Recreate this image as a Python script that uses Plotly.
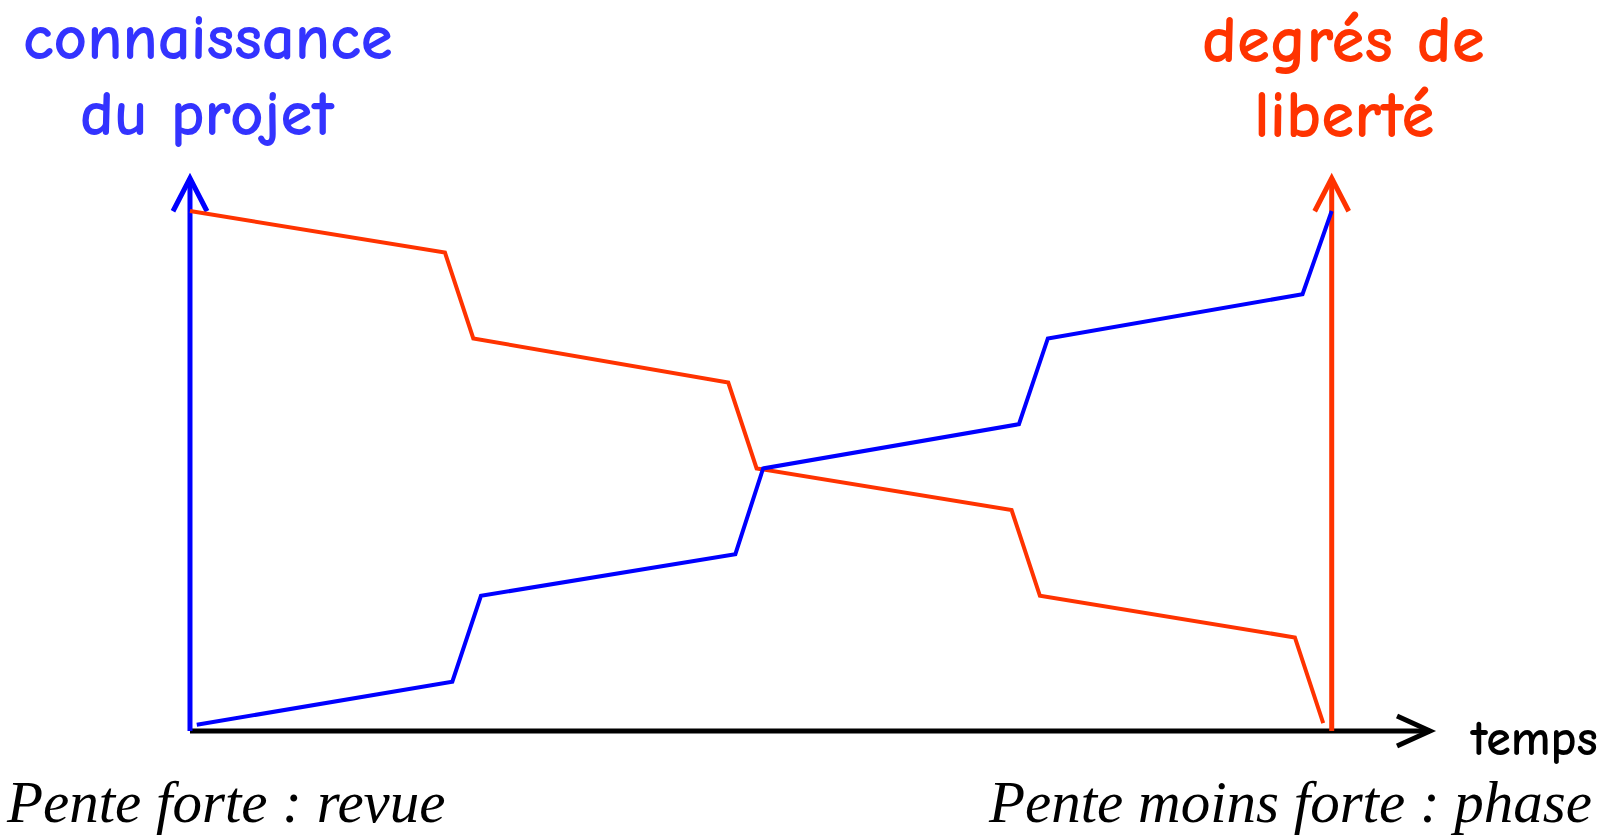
import plotly.graph_objects as go

# ---- data (schematic values) ----
temps_liberte = [0, 9, 10, 19, 20, 29, 30, 39, 40]
degres_liberte = [100, 92, 75.5, 67, 50.5, 42.5, 26, 18, 1.5]
temps_connaissance = [0.24, 9.26, 10.27, 19.25, 20.23, 29.26, 30.28, 39.27, 40.3]
connaissance_projet = [1.2, 9.5, 26, 34, 50.5, 59, 75.5, 84, 100]

label_connaissance = ["connaissance", "du projet"]
label_liberte = ["degrés de", "liberté"]
label_temps = "temps"
note_gauche = "Pente forte : revue"
note_droite = "Pente moins forte : phase"

BLUE = "#0000FF"
BLUE_TXT = "#3333FF"
RED = "#FF3300"

W, H = 1617, 836
XR = [-6.706, 50.37]
YR = [-20.19, 140.58]
pxx = W / (XR[1] - XR[0])
pxy = H / (YR[1] - YR[0])

y_top = 106.3            # arrow tip of the vertical axes
x_end = 43.77            # arrow tip of the time axis
x_red_axis = temps_connaissance[-1]

fig = go.Figure()

fig.add_trace(go.Scatter(x=temps_liberte, y=degres_liberte, mode="lines",
                         line=dict(color=RED, width=4), hoverinfo="skip"))
fig.add_trace(go.Scatter(x=temps_connaissance, y=connaissance_projet, mode="lines",
                         line=dict(color=BLUE, width=4), hoverinfo="skip"))

shapes = []
# axes
shapes.append(dict(type="line", x0=0, y0=0, x1=x_end, y1=0, layer="below",
                   line=dict(color="black", width=5)))
shapes.append(dict(type="line", x0=0, y0=0, x1=0, y1=y_top, layer="below",
                   line=dict(color=BLUE, width=5)))
shapes.append(dict(type="line", x0=x_red_axis, y0=0, x1=x_red_axis, y1=y_top, layer="below",
                   line=dict(color=RED, width=5)))

def chevron_up(xt, yt, color):
    dx = 17 / pxx
    dy = 33 / pxy
    return dict(type="path", layer="below",
                path=f"M {xt-dx},{yt-dy} L {xt},{yt} L {xt+dx},{yt-dy}",
                line=dict(color=color, width=5))

def chevron_right(xt, yt, color):
    dx = 33 / pxx
    dy = 15 / pxy
    return dict(type="path", layer="below",
                path=f"M {xt-dx},{yt+dy} L {xt},{yt} L {xt-dx},{yt-dy}",
                line=dict(color=color, width=5))

shapes.append(chevron_up(0, y_top, BLUE))
shapes.append(chevron_up(x_red_axis, y_top, RED))
shapes.append(chevron_right(x_end, 0, "black"))

def ann(text, xpix, ypix_mid, size, color, family, xanchor="center", italic=False, weight="normal"):
    return dict(text=text, xref="paper", yref="paper",
                x=xpix / W, y=1 - ypix_mid / H, xanchor=xanchor, yanchor="middle",
                showarrow=False,
                font=dict(size=size, color=color, family=family, weight=weight,
                          style="italic" if italic else "normal"))

COMIC = "Comic Sans MS, Comic Neue, Open Sans, sans-serif"
SERIF = "Garamond, Liberation Serif, serif"

annotations = [
    ann(label_connaissance[0], 208, 38, 65, BLUE_TXT, COMIC, weight="bold"),
    ann(label_connaissance[1], 207, 114, 65, BLUE_TXT, COMIC, weight="bold"),
    ann(label_liberte[0], 1343, 40, 67, RED, COMIC, weight="bold"),
    ann(label_liberte[1], 1344, 116, 67, RED, COMIC, weight="bold"),
    ann(label_temps, 1534, 739, 50, "black", COMIC, weight="bold"),
    ann(note_gauche, 4, 802, 59, "black", SERIF, xanchor="left", italic=True),
    ann(note_droite, 1594, 802, 59, "black", SERIF, xanchor="right", italic=True),
]

fig.update_layout(
    width=W, height=H,
    margin=dict(l=0, r=0, t=0, b=0),
    paper_bgcolor="white", plot_bgcolor="white",
    showlegend=False,
    xaxis=dict(range=XR, visible=False, fixedrange=True),
    yaxis=dict(range=YR, visible=False, fixedrange=True),
    shapes=shapes,
    annotations=annotations,
)

fig.write_html("out.html", config={"displayModeBar": False},
               post_script="document.body.style.margin='0';document.body.style.overflow='hidden';")
